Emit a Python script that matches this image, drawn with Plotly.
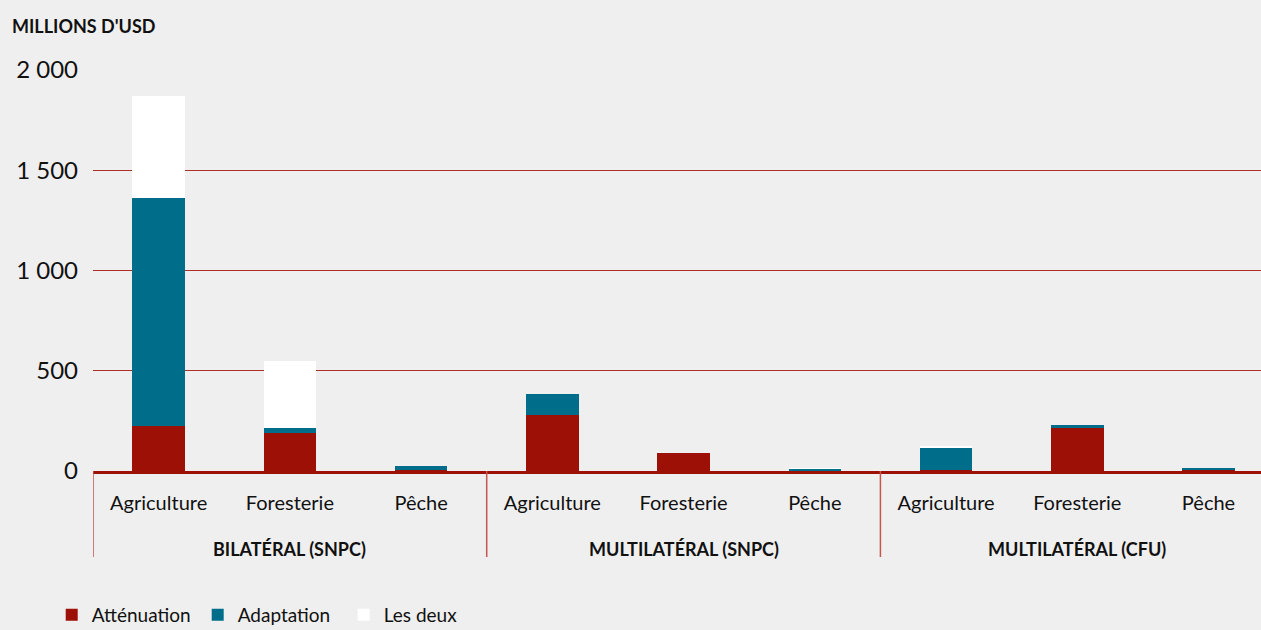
import plotly.graph_objects as go

# données (millions d'USD)
groups = ["BILATÉRAL (SNPC)", "MULTILATÉRAL (SNPC)", "MULTILATÉRAL (CFU)"]
sectors = ["Agriculture", "Foresterie", "Pêche"]

attenuation = [225, 190, 3, 280, 90, 3, 3, 216, 3]
adaptation = [1135, 24, 22, 105, 0, 8, 110, 13, 12]
les_deux = [510, 335, 0, 0, 0, 2, 13, 0, 0]

y_ticks = [0, 500, 1000, 1500, 2000]

BG = "#efefef"
RED = "#9c1006"
TEAL = "#006e8a"
GRID = "#ad3026"
FONT = "Lato"

labels = [s for g in groups for s in sectors]
xpos = list(range(len(labels)))

fig = go.Figure()
fig.add_trace(go.Bar(x=xpos, y=attenuation, name="Atténuation", marker=dict(color=RED, line_width=0), width=0.4))
fig.add_trace(go.Bar(x=xpos, y=adaptation, name="Adaptation", marker=dict(color=TEAL, line_width=0), width=0.4))
fig.add_trace(go.Bar(x=xpos, y=les_deux, name="Les deux", marker=dict(color="#ffffff", line_width=0), width=0.4))

# séparateurs de groupes et libellés de groupes
for i, g in enumerate(groups):
    start = i * len(sectors) - 0.5
    fig.add_shape(type="line", xref="x", yref="paper", x0=start, x1=start, y0=0, y1=-0.214,
                  line=dict(color="#c4564e", width=1.5), layer="above")
    fig.add_annotation(x=start + len(sectors) / 2, xref="x", y=-0.194, yref="paper",
                       text="<b>" + g + "</b>", showarrow=False, yanchor="middle",
                       font=dict(family=FONT, size=18, color="#111"))

# titre de l'axe des ordonnées
fig.add_annotation(x=(10 - 93) / 1168, xref="paper", y=1 + (70 - 27) / 401, yref="paper",
                   text="<b>MILLIONS D'USD</b>", showarrow=False, xanchor="left", yanchor="middle",
                   font=dict(family=FONT, size=18, color="#111"))

fig.update_layout(
    barmode="stack",
    width=1261,
    height=630,
    plot_bgcolor=BG,
    paper_bgcolor=BG,
    margin=dict(l=93, r=0, t=69, b=159),
    separators=", ",
    font=dict(family=FONT, size=20, color="#111"),
    showlegend=True,
    legend=dict(
        orientation="h",
        xref="container", yref="container",
        x=0.041, y=0.054, xanchor="left", yanchor="top",
        font=dict(family=FONT, size=19, color="#111"),
        entrywidth=101, entrywidthmode="pixels",
        bgcolor="rgba(0,0,0,0)",
        traceorder="normal",
    ),
)

fig.update_xaxes(
    tickvals=xpos,
    ticktext=labels,
    range=[-0.5, 8.4],
    showgrid=False,
    zeroline=False,
    showline=True,
    linecolor=RED,
    linewidth=3,
    ticks="",
    ticklabelstandoff=12,
    tickfont=dict(family=FONT, size=20, color="#111"),
)

fig.update_yaxes(
    range=[0, 2005],
    tickvals=y_ticks,
    tickformat=",d",
    showgrid=True,
    gridcolor=GRID,
    gridwidth=1,
    zeroline=False,
    showline=False,
    ticks="",
    ticklabelstandoff=14,
    tickfont=dict(family=FONT, size=24, color="#111"),
)

fig.write_html("out.html", config={"displayModeBar": False},
               post_script="document.body.style.margin='0';")
